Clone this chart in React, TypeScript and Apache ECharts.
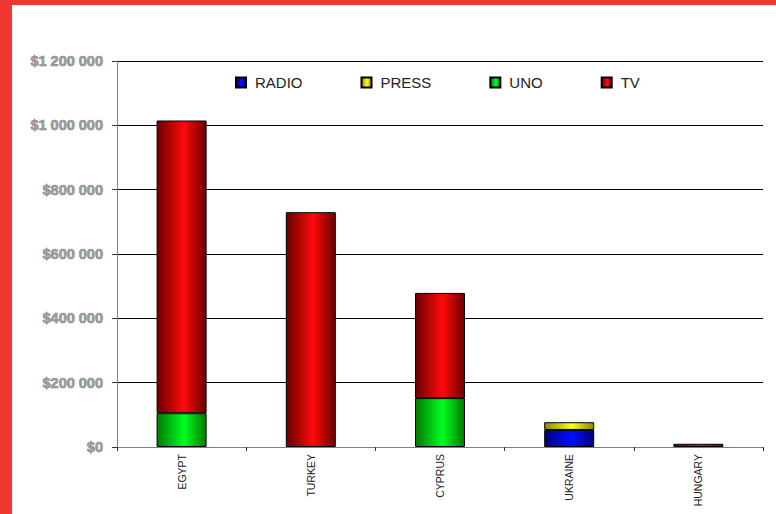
import React, { useEffect, useRef } from "react";
import * as echarts from "echarts";

const categories = ["EGYPT", "TURKEY", "CYPRUS", "UKRAINE", "HUNGARY"];
const radio = [0, 0, 0, 53000, 0];
const press = [0, 0, 0, 24000, 0];
const uno = [105000, 0, 152000, 0, 0];
const tv = [910000, 730000, 327000, 0, 10000];
const seriesNames = ["RADIO", "PRESS", "UNO", "TV"];
const yTicks = [0, 200000, 400000, 600000, 800000, 1000000, 1200000];

const grad = (dark: string, bright: string) =>
  new echarts.graphic.LinearGradient(0, 0, 1, 0, [
    { offset: 0, color: dark },
    { offset: 0.55, color: bright },
    { offset: 1, color: dark },
  ]);

const fmt = (v: number) => "$" + String(v).replace(/\B(?=(\d{3})+(?!\d))/g, " ");

export default function App() {
  const ref = useRef<HTMLDivElement>(null);
  useEffect(() => {
    if (!ref.current) return;
    const chart = echarts.init(ref.current, null, { renderer: "svg" });
    const colors = [
      grad("#00007a", "#0010ff"),
      grad("#8a8a00", "#ffff20"),
      grad("#007a00", "#00ff20"),
      grad("#6a0000", "#ff0a0a"),
    ];
    const data = [radio, press, uno, tv];
    chart.setOption({
      animation: false,
      backgroundColor: "#ffffff",
      grid: { left: 105, top: 56, right: 13, bottom: 67, containLabel: false },
      legend: {
        left: 218,
        top: 65,
        itemWidth: 10,
        itemHeight: 10,
        itemGap: 58,
        icon: "rect",
        textStyle: { fontFamily: "Liberation Sans, Arial", fontSize: 15, color: "#222", padding: [0, 0, 0, 4] },
        data: seriesNames,
      },
      xAxis: {
        type: "category",
        data: categories,
        axisLine: { lineStyle: { color: "#808080", width: 1 } },
        axisTick: { show: true, length: 4, lineStyle: { color: "#333" } },
        axisLabel: {
          rotate: 90,
          fontFamily: "Liberation Sans, Arial",
          fontSize: 10.5,
          color: "#222",
          margin: 7,
        },
        splitLine: { show: false },
      },
      yAxis: {
        type: "value",
        min: 0,
        max: 1200000,
        interval: 200000,
        axisLine: { show: true, lineStyle: { color: "#808080", width: 1 } },
        axisTick: { show: true, length: 5, lineStyle: { color: "#333" } },
        axisLabel: {
          margin: 14,
          fontFamily: "Liberation Sans, Arial",
          fontWeight: "bold",
          fontSize: 14.5,
          color: "#9a9a9a",
          textBorderColor: "#7a7a7a",
          textBorderWidth: 0.6,
          formatter: (v: number) => (yTicks.includes(v) ? fmt(v) : ""),
        },
        splitLine: { show: true, lineStyle: { color: "#000", width: 1 } },
      },
      series: seriesNames.map((name, i) => ({
        name,
        type: "bar",
        stack: "total",
        barWidth: 50,
        data: data[i].map((v) => (v === 0 ? "-" : v)),
        itemStyle: { color: colors[i], borderColor: "#000", borderWidth: 1 },
      })),
    });
    return () => chart.dispose();
  }, []);
  return (
    <div style={{ position: "fixed", left: 0, top: 0, width: 776, height: 514, background: "#ef3733" }}>
      <div ref={ref} style={{ position: "absolute", left: 12, top: 5, width: 764, height: 509 }} />
    </div>
  );
}
